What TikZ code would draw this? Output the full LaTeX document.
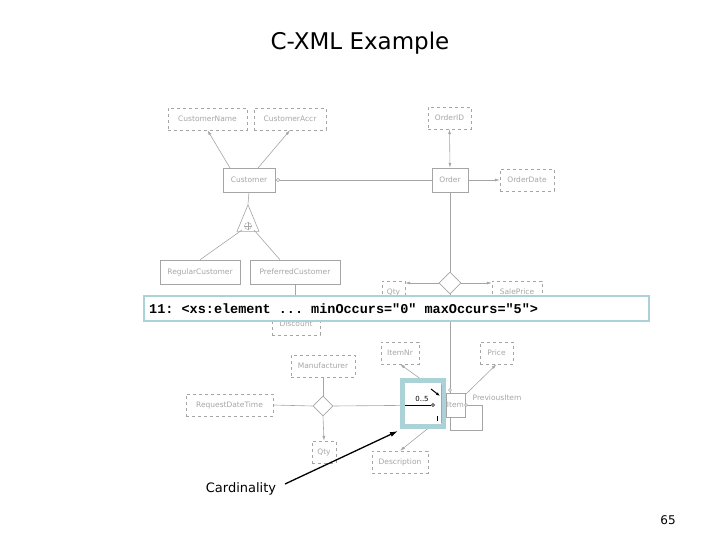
\documentclass[tikz,border=0pt]{standalone}
\usepackage{fontspec}
\setmainfont{DejaVu Sans}
\setmonofont{Liberation Mono}
\usetikzlibrary{shapes.geometric,arrows.meta}
\definecolor{lg}{RGB}{165,165,165}
\definecolor{hb}{RGB}{170,210,215}
\begin{document}
\begin{tikzpicture}[x=1pt,y=-1pt,
 att/.style={draw=lg,dashed,text=lg,font=\fontsize{7.5}{8}\selectfont,inner sep=1pt,minimum height=22pt},
 ent/.style={draw=lg,text=lg,font=\fontsize{7.5}{8}\selectfont,inner sep=1pt,minimum height=24pt},
 ln/.style={draw=lg,line width=0.6pt},
 ar/.style={ln,-{Latex[length=5pt,width=3pt]}}]
\useasboundingbox (0,0) rectangle (720,540);
\node (title) at (360,43) {\fontsize{23}{27}\selectfont C-XML Example};
\node[att,minimum width=79pt] (cn) at (207.5,119) {CustomerName};
\node[att,minimum width=72pt] (ca) at (290,119) {CustomerAccr};
\node[att,minimum width=43pt] (oid) at (449.5,118) {OrderID};
\node[ent,minimum width=52pt] (cust) at (249,180) {Customer};
\node[ent,minimum width=36pt] (ord) at (450,180) {Order};
\node[att,minimum width=54pt] (od) at (527,180) {OrderDate};
\node[ln,isosceles triangle,shape border rotate=90,minimum height=20pt,minimum width=22pt,inner sep=0pt] (tri) at (248,224) {};
\node[draw=lg,circle,inner sep=0pt,minimum size=7pt] (plus) at (248,226) {};
\draw[lg] (plus.north)--(plus.south) (plus.west)--(plus.east);
\node[ent,minimum width=80pt] (rc) at (200,272) {RegularCustomer};
\node[ent,minimum width=90pt] (pc) at (295,272) {PreferredCustomer};
\draw[ar] (230,168) -- (cn.south);
\draw[ar] (258,168) -- (ca.south);
\draw[ln] (cust.south) -- (tri.apex);
\draw[ln] (242,230) -- (rc.north);
\draw[ln] (254,230) -- (pc.north -| 280,0);
\draw[ar,{Latex[length=5pt,width=3pt]}-{Latex[length=5pt,width=3pt]}] (oid.south) -- (ord.north);
\draw[ar] (ord.east) -- (od.west);
\draw[ln] (ord.west) -- (cust.east);
\node[draw=lg,circle,fill=white,inner sep=0pt,minimum size=3.5pt] (c1) at (278,180) {};
\node[att,minimum width=23pt] (q1) at (393.5,292) {Qty};
\node[att,minimum width=50pt] (sp) at (517,292) {SalePrice};
\node[ln,diamond,minimum size=22pt,inner sep=0pt] (dm) at (450,283) {};
\draw[ln] (ord.south) -- (dm.north);
\draw[ar] (dm.west) -- (q1.east |- dm.west);
\draw[ar] (dm.east) -- (sp.west |- dm.east);
\draw[ln] (295,284) -- (295,300);
\node[att,minimum width=48pt] (disc) at (296,324) {Discount};
\node[att,minimum width=38pt] (inr) at (400,353) {ItemNr};
\node[att,minimum width=33pt] (pr) at (496.5,353) {Price};
\node[att,minimum width=64pt] (man) at (323,366) {Manufacturer};
\node[att,minimum width=87pt] (rdt) at (229.5,405) {RequestDateTime};
\node[ln,diamond,minimum size=20pt,inner sep=0pt] (d2) at (323,406) {};
\node[att,minimum width=24pt] (q2) at (324,452) {Qty};
\node[att,minimum width=56pt] (desc) at (400,462) {Description};
\node[ent,minimum width=19pt,minimum height=24pt] (item) at (455.5,405) {Item};
\node[text=lg,font=\fontsize{7.5}{8}\selectfont] (pi) at (497,398) {PreviousItem};
\draw[ln] (rdt.east) -- (d2.west);
\draw[ln] (man.south) -- (d2.north);
\draw[ar] (d2.south) -- (q2.north);
\draw[ln] (d2.east) -- (item.west);
\draw[ln] (dm.south) -- (450,393);
\draw[ar] (446,397) -- (inr.south);
\draw[ar] (465,395) -- (pr.south);
\draw[ar] (446,414) -- (desc.north);
\draw[ln] (465,405) -- (482,405) -- (482,430) -- (450,430) -- (450,417);
\node[draw=lg,circle,fill=white,inner sep=0pt,minimum size=3pt] at (466,405) {};
\node[draw=lg,circle,fill=white,inner sep=0pt,minimum size=3pt] at (450,390) {};
\draw[hb,line width=5pt] (402.5,380.5) rectangle (443.5,426.5);
\fill[white] (405,383) rectangle (441,424);
\draw[black,line width=0.7pt] (405,405) -- (431,405);
\node[draw=black,circle,fill=white,inner sep=0pt,minimum size=3pt] (oc) at (433,405) {};
\node[font=\fontsize{7}{8}\selectfont] (card) at (422,399) {0..5};
\draw[black,line width=1pt,-{Latex[length=4pt,width=3pt]}] (431,389) -- (440,396);
\draw[black,line width=0.6pt] (437,416) -- (437,421);
\draw[lg] (441,385) -- (441,423);
\draw[hb,line width=2.5pt,fill=white] (144,296) rectangle (649,321);
\node[font=\ttfamily\bfseries\fontsize{13.5}{15}\selectfont,anchor=west,inner sep=0pt] (code) at (149,309) {11: <xs:element ... minOccurs="0" maxOccurs="5">};
\node[font=\fontsize{13}{15}\selectfont] (cl) at (241,489) {Cardinality};
\draw[black,line width=1.3pt,-{Latex[length=8pt,width=5pt]}] (285,484) -- (398,431);
\node[font=\fontsize{12}{14}\selectfont] (pn) at (668,520) {65};
\end{tikzpicture}
\end{document}
